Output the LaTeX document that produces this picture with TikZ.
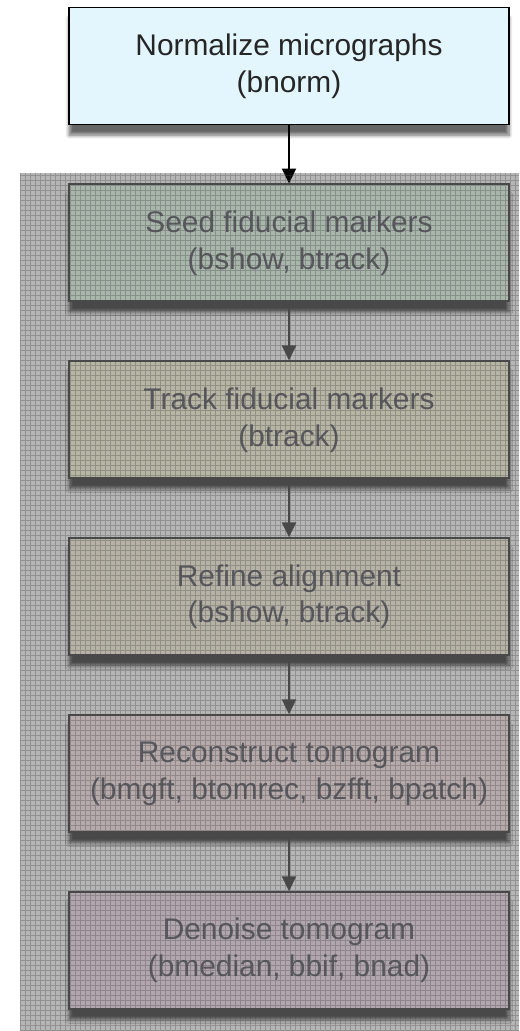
\documentclass[tikz,border=0pt]{standalone}
\usepackage{fontspec}
\setmainfont{Liberation Sans}
\usepackage{tikz}
\usetikzlibrary{arrows.meta, positioning, shadows.blur}
\definecolor{normfill}{RGB}{227, 246, 253}
\definecolor{seedfill}{RGB}{168, 182, 171}
\definecolor{trackfill}{RGB}{183, 181, 163}
\definecolor{refinefill}{RGB}{182, 179, 166}
\definecolor{reconfill}{RGB}{182, 171, 170}
\definecolor{denoisefill}{RGB}{177, 166, 173}
\definecolor{screen}{RGB}{182, 182, 182}
\definecolor{fadeline}{RGB}{72, 72, 72}
\definecolor{fadetext}{RGB}{88, 88, 94}

\begin{document}
\begin{tikzpicture}[
    node distance=1.16cm,
    every node/.style={font=\fontsize{17}{21}\selectfont},
    stage/.style={rectangle, draw=black, line width=1.1pt, minimum width=8.8cm, minimum height=2.34cm, inner sep=0pt, align=center, text=black!85, blur shadow={shadow xshift=0pt, shadow yshift=-6pt, shadow blur steps=8, shadow opacity=60}},
    faded/.style={stage, draw=fadeline, text=fadetext},
    arrow/.style={-{Triangle[length=8.5pt, width=8pt]}, line width=1.1pt, black},
    fadearrow/.style={arrow, fadeline}
]
    \useasboundingbox (0,0) rectangle (10.38,-20.62);
    \fill[screen] (0.4,-3.46) rectangle (10.38,-20.62);

    % Nodes
    \node (norm) [stage, fill=normfill] at (5.78,-1.32) {Normalize micrographs\\(bnorm)};
    \node (seed) [faded, fill=seedfill, below=of norm] {Seed fiducial markers\\(bshow, btrack)};
    \node (track) [faded, fill=trackfill, below=of seed] {Track fiducial markers\\(btrack)};
    \node (refine) [faded, fill=refinefill, below=of track] {Refine alignment\\(bshow, btrack)};
    \node (recon) [faded, fill=reconfill, below=of refine] {Reconstruct tomogram\\(bmgft, btomrec, bzfft, bpatch)};
    \node (denoise) [faded, fill=denoisefill, below=of recon] {Denoise tomogram\\(bmedian, bbif, bnad)};

    % Connections
    \draw [arrow] (norm) -- (seed);
    \draw [fadearrow] (seed) -- (track);
    \draw [fadearrow] (track) -- (refine);
    \draw [fadearrow] (refine) -- (recon);
    \draw [fadearrow] (recon) -- (denoise);

    % screen texture
    \draw [gray!60!black, line width=0.35pt, opacity=0.35, step=0.1cm] (0.4,-3.46) grid (10.38,-20.62);
\end{tikzpicture}
\end{document}
